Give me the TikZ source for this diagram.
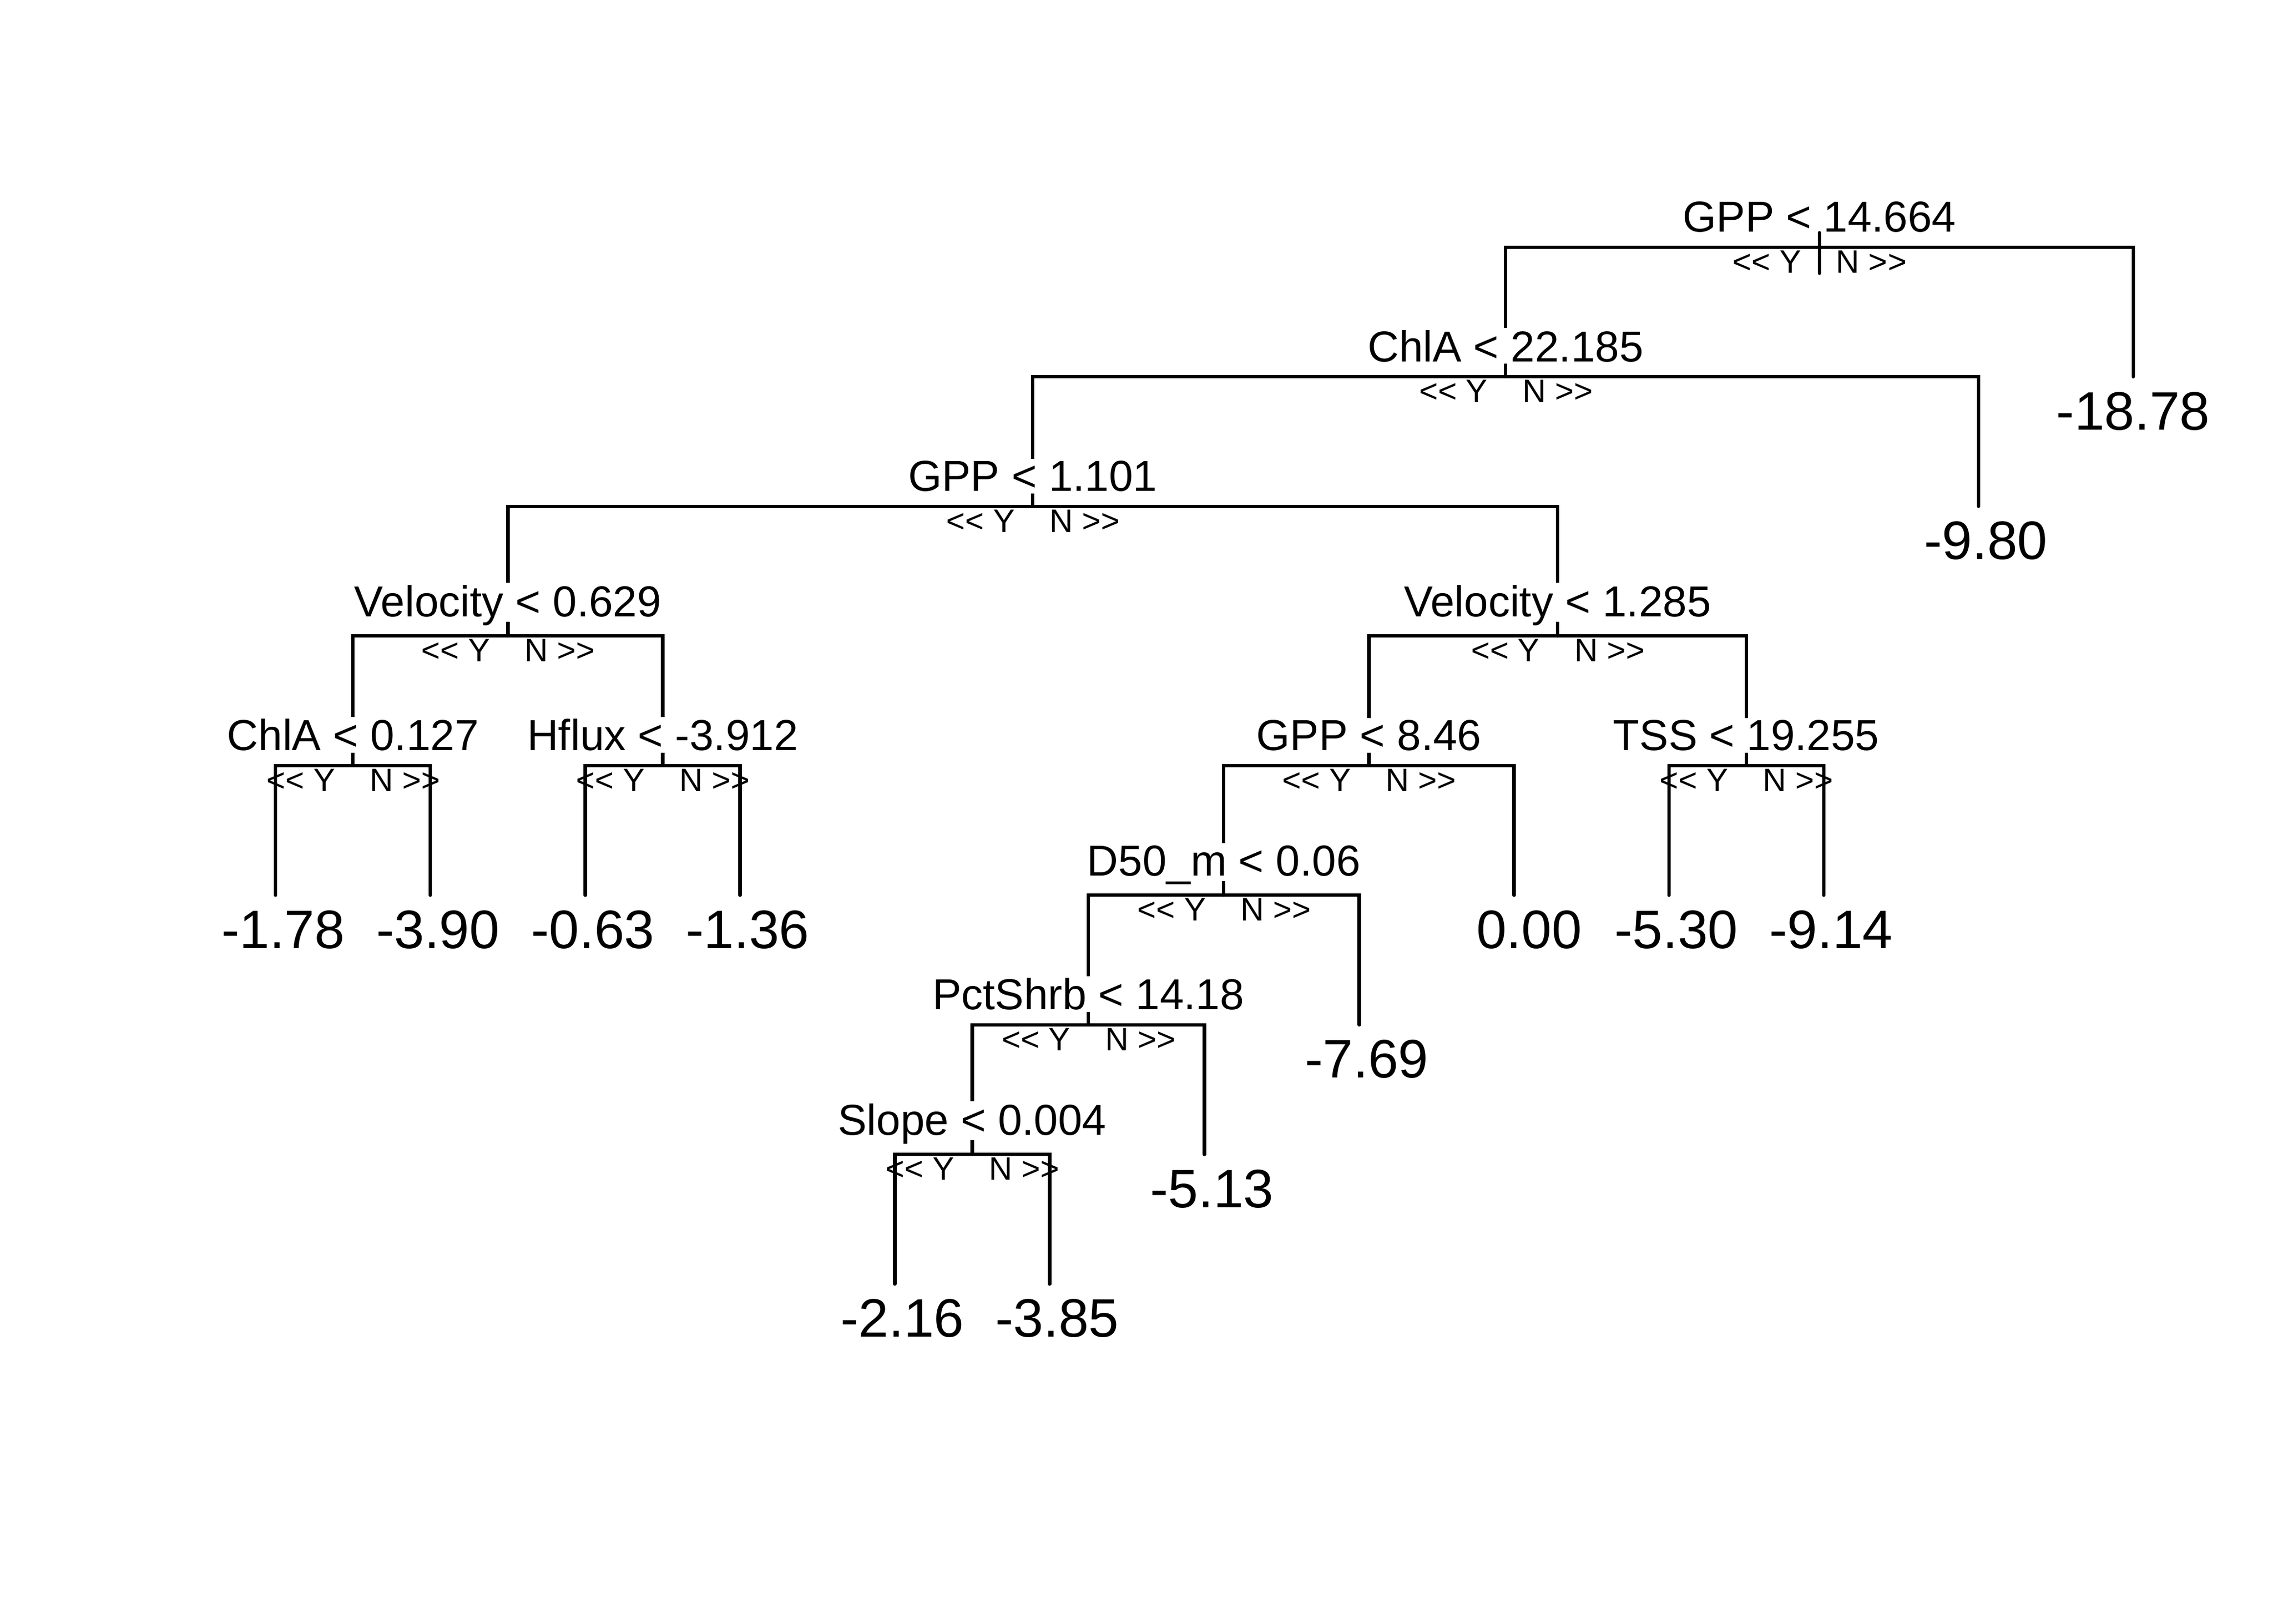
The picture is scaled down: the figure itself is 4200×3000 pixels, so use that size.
\documentclass[tikz,border=0pt]{standalone}
\usepackage{fontspec}
\setmainfont{Liberation Sans}
\usetikzlibrary{calc}

\begin{document}
\begin{tikzpicture}[x=0.0423333mm, y=-0.0423333mm,
    line width=0.75bp, line cap=round,
    split/.style={anchor=base, fill=white, inner sep=0.5bp, text depth=0pt,
        font=\fontsize{9.6bp}{11bp}\selectfont},
    splitdesc/.style={split, text depth=0.7bp},
    yn/.style={inner sep=0pt, font=\fontsize{7.2bp}{8bp}\selectfont},
    leaf/.style={anchor=base, inner sep=0pt, font=\fontsize{12bp}{14bp}\selectfont}]
\useasboundingbox (0,0) rectangle (4200,3000);
\def\ytop{456.7} \def\dy{239.5}
\def\xa{509.3} \def\dx{286.03}

% leaves: index/depth
\foreach \i/\d in {1/5,2/5,3/5,4/5,5/8,6/8,7/7,8/6,9/5,10/5,11/5,12/2,13/1}
    \coordinate (v\i) at ({\xa+(\i-1)*\dx}, {\ytop+\d*\dy});

% splits: name/x/depth
\foreach \n/\x/\d in {a/3361.8/0, b/2781.9/1, c/1908.2/2, d/938.4/3, e/2878.0/3,
        f/652.3/4, g/1224.4/4, h/2529.4/4, i/3226.6/4, j/2261.2/5, k/2011.0/6, l/1796.5/7}
    \coordinate (\n) at (\x, {\ytop+\d*\dy});

% branches: parent/yes/no
\foreach \p/\l/\r in {a/b/v13, b/c/v12, c/d/e, d/f/g, e/h/i, f/v1/v2, g/v3/v4,
        h/j/v9, i/v10/v11, j/k/v8, k/l/v7, l/v5/v6}
    \draw (\l) |- (\p) -| (\r);

% split labels: name/style/raise/text
\foreach \n/\s/\h/\t in {a/split/28/{GPP < 14.664}, b/split/28/{ChlA < 22.185},
        c/split/28/{GPP < 1.101}, d/splitdesc/36/{Velocity < 0.629},
        e/splitdesc/36/{Velocity < 1.285}, f/split/28/{ChlA < 0.127},
        g/split/28/{Hflux < -3.912}, h/split/28/{GPP < 8.46},
        i/split/28/{TSS < 19.255}, j/splitdesc/36/{D50\_m < 0.06},
        k/split/28/{PctShrb < 14.18}, l/splitdesc/36/{Slope < 0.004}} {
    \node[\s] (t-\n) at ($(\n)+(0,-\h)$) {\t};
    \node[yn, anchor=base east] (y-\n) at ($(\n)+(-30,47.5)$) {<{}< Y};
    \node[yn, anchor=base west] (n-\n) at ($(\n)+(28,47.5)$) {N >{}>};
}

% leaf values, \s = leading blanks
\foreach \i/\t/\s in {1/-1.78/1, 2/-3.90/1, 3/-0.63/1, 4/-1.36/1, 5/-2.16/1,
        6/-3.85/1, 7/-5.13/1, 8/-7.69/1, 9/0.00/2, 10/-5.30/1, 11/-9.14/1,
        12/-9.80/1, 13/-18.78/0}
    \node[leaf] (t-v\i) at ($(v\i)+(\s*13.9,98)$) {\t};

% root mark
\coordinate (a-top) at ($(a)+(0,-26.7)$);
\coordinate (a-bot) at ($(a)+(0,48.3)$);
\draw (a-top) -- (a-bot);
\end{tikzpicture}
\end{document}
